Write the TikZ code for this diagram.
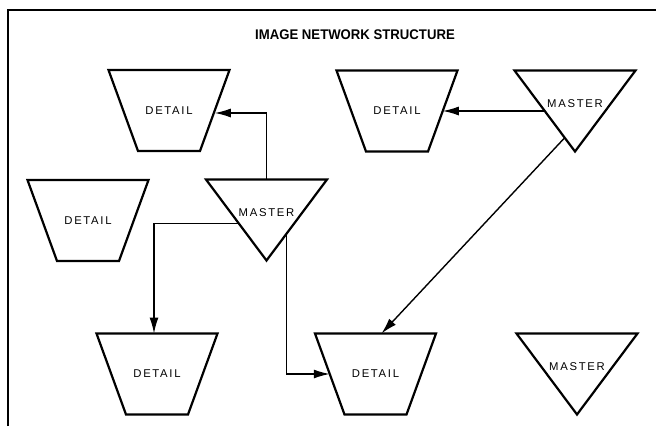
\documentclass[tikz,border=0pt]{standalone}
\usepackage{fontspec}
\usetikzlibrary{arrows.meta,calc}
\newfontfamily\lblfont[LetterSpace=15]{Liberation Sans}
\newfontfamily\ttlfont[FakeStretch=0.94]{Liberation Sans}
\newcommand\detailoutline[1]{\draw[shapeline] (#1.north west) -- (#1.north east) -- ([xshift=-29.5pt]#1.south east) -- ([xshift=29.5pt]#1.south west) -- cycle;}
\newcommand\masteroutline[1]{\draw[shapeline] (#1.north west) -- (#1.north east) -- (#1.south) -- cycle;}
\tikzset{
  shapeline/.style={line width=2.2pt, line join=miter},
  framestyle/.style={line width=2pt},
  detailbox/.style={rectangle, minimum width=121pt, minimum height=81pt, inner sep=0pt, outer sep=0pt,
    font=\lblfont\fontsize{11.3pt}{13pt}\selectfont},
  masterbox/.style={rectangle, minimum width=121pt, minimum height=81pt, inner sep=0pt, outer sep=0pt,
    text height=8pt, text depth=16pt, font=\lblfont\fontsize{11.3pt}{13pt}\selectfont},
  conn/.style={line width=1.4pt, -{Latex[length=16pt,width=9pt]}},
  titlestyle/.style={font=\ttlfont\bfseries\fontsize{14pt}{16pt}\selectfont, inner sep=0pt}
}
\begin{document}
\begin{tikzpicture}[x=1pt,y=-1pt]
\useasboundingbox (0,0) rectangle (656,426);
% frame
\draw[framestyle] (7.5,426) -- (7.5,9.5) -- (656,9.5);
\node[titlestyle] (title) at (355,35) {IMAGE NETWORK STRUCTURE};
% nodes
\node[detailbox] (d1) at (169,110.5) {DETAIL};
\node[detailbox] (d2) at (88,220.5) {DETAIL};
\node[detailbox] (d3) at (397,111) {DETAIL};
\node[detailbox] (d4) at (375.5,374) {DETAIL};
\node[detailbox] (d5) at (157,374) {DETAIL};
\node[masterbox] (m1) at (266.5,220) {MASTER};
\node[masterbox] (m2) at (575,111) {MASTER};
\node[masterbox] (m3) at (577,374) {MASTER};
\detailoutline{d1}
\detailoutline{d2}
\detailoutline{d3}
\detailoutline{d4}
\detailoutline{d5}
\masteroutline{m1}
\masteroutline{m2}
\masteroutline{m3}
% connectors
\draw[conn] (m1.north) |- ([xshift=-14.75pt,yshift=-2.5pt]d1.east);
\draw[conn] ($(m2.north west)!0.5!(m2.south)$) -- ([xshift=-14.75pt]d3.east);
\draw[conn] ($(m2.north west)!0.83!(m2.south)$) -- ([xshift=6pt]d4.north);
\draw[conn] ($(m1.north west)!0.54!(m1.south)$) -| ([xshift=-3pt]d5.north);
\draw[conn] ($(m1.north east)!0.67!(m1.south)$) |- ([xshift=14.75pt]d4.west);
\end{tikzpicture}
\end{document}
